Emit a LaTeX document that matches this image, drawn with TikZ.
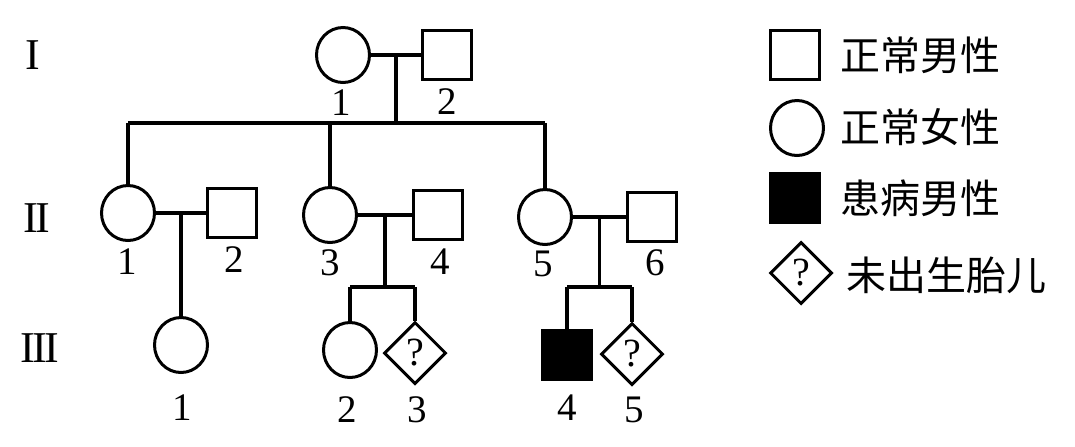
\documentclass[tikz,border=0pt]{standalone}
\usepackage{fontspec}
\setmainfont{Liberation Serif}
\newfontfamily\cjk{Noto Sans CJK SC}
\usetikzlibrary{shapes.geometric,calc}
\tikzset{
  female/.style={draw,ellipse,line width=1.5pt,minimum width=26.5pt,minimum height=27.5pt,inner sep=0pt},
  male/.style={draw,rectangle,line width=1.5pt,minimum size=24.5pt,inner sep=0pt},
  affected/.style={male,fill=black},
  unborn/.style={draw,diamond,aspect=1,line width=1.5pt,minimum size=31pt,inner sep=0pt,font=\fontsize{20}{20}\selectfont},
  link/.style={line width=1.6pt},
  num/.style={font=\fontsize{19.5}{19.5}\selectfont,inner sep=0pt},
  gen/.style={font=\fontsize{22}{22}\selectfont,inner sep=0pt},
  legtext/.style={anchor=west,font=\cjk\fontsize{20}{20}\selectfont,inner sep=0pt}
}
\begin{document}
\begin{tikzpicture}[x=0.5pt,y=-0.5pt]
\useasboundingbox (0,0) rectangle (1075,446);
% generation labels
\node[gen] (gI) at (33,55) {I};
\node[gen] (gII) at (37,218) {I\kern-1.2ptI};
\node[gen] (gIII) at (40,348) {I\kern-1.2ptI\kern-1.2ptI};
% generation I
\node[female] (I1) at (343,55) {};
\node[male] (I2) at (447,55) {};
\node[num] (lI1) at (341,103) {1};
\node[num] (lI2) at (447,102) {2};
% generation II
\node[female] (II1) at (128,213) {};
\node[male] (II2) at (232,213) {};
\node[female] (II3) at (330,215) {};
\node[male] (II4) at (438,215) {};
\node[female] (II5) at (545,217) {};
\node[male] (II6) at (652,217) {};
\node[num] (lII1) at (127,262) {1};
\node[num] (lII2) at (234,260) {2};
\node[num] (lII3) at (330,263) {3};
\node[num] (lII4) at (440,262) {4};
\node[num] (lII5) at (543,264) {5};
\node[num] (lII6) at (655,263) {6};
% generation III
\node[female] (III1) at (181,345) {};
\node[female] (III2) at (350,350) {};
\node[unborn] (III3) at (415,353) {?};
\node[affected] (III4) at (567,355) {};
\node[unborn] (III5) at (632,354) {?};
\node[num] (lIII1) at (182,408) {1};
\node[num] (lIII2) at (347,410) {2};
\node[num] (lIII3) at (417,410) {3};
\node[num] (lIII4) at (567,408) {4};
\node[num] (lIII5) at (634,410) {5};
% connectors gen I
\draw[link] (I1) -- (I2);
\coordinate (m1) at ($(I1.east)!0.5!(I2.west)$);
\coordinate (s1) at (398,123);
\draw[link] (m1) -- (m1 |- s1);
\draw[link] (II1.north |- s1) -- (II5.north |- s1);
\draw[link] (II1.north |- s1) -- (II1.north);
\draw[link] (II3.north |- s1) -- (II3.north);
\draw[link] (II5.north |- s1) -- (II5.north);
% couple II1-II2
\draw[link] (II1) -- (II2);
\coordinate (m2) at ($(II1.east)!0.5!(II2.west)$);
\draw[link] (m2) -- (m2 |- III1.north);
% couple II3-II4
\draw[link] (II3) -- (II4);
\coordinate (m3) at ($(II3.east)!0.5!(II4.west)$);
\coordinate (s3) at (385,287);
\draw[link] (m3) -- (m3 |- s3);
\draw[link] (III2.north |- s3) -- (III3.north |- s3);
\draw[link] (III2.north |- s3) -- (III2.north);
\draw[link] (III3.north |- s3) -- (III3.north);
% couple II5-II6
\draw[link] (II5) -- (II6);
\coordinate (m4) at ($(II5.east)!0.5!(II6.west)$);
\coordinate (s4) at (600,287);
\draw[link] (m4) -- (m4 |- s4);
\draw[link] (III4.north |- s4) -- (III5.north |- s4);
\draw[link] (III4.north |- s4) -- (III4.north);
\draw[link] (III5.north |- s4) -- (III5.north);
% legend
\node[male] (L1) at (795,55) {};
\node[female] (L2) at (797,128) {};
\node[affected] (L3) at (795,198) {};
\node[unborn] (L4) at (801,273) {?};
\node[legtext] (T1) at (840,55) {正常男性};
\node[legtext] (T2) at (840,127) {正常女性};
\node[legtext] (T3) at (840,198) {患病男性};
\node[legtext] (T4) at (846,275) {未出生胎儿};
\end{tikzpicture}
\end{document}
